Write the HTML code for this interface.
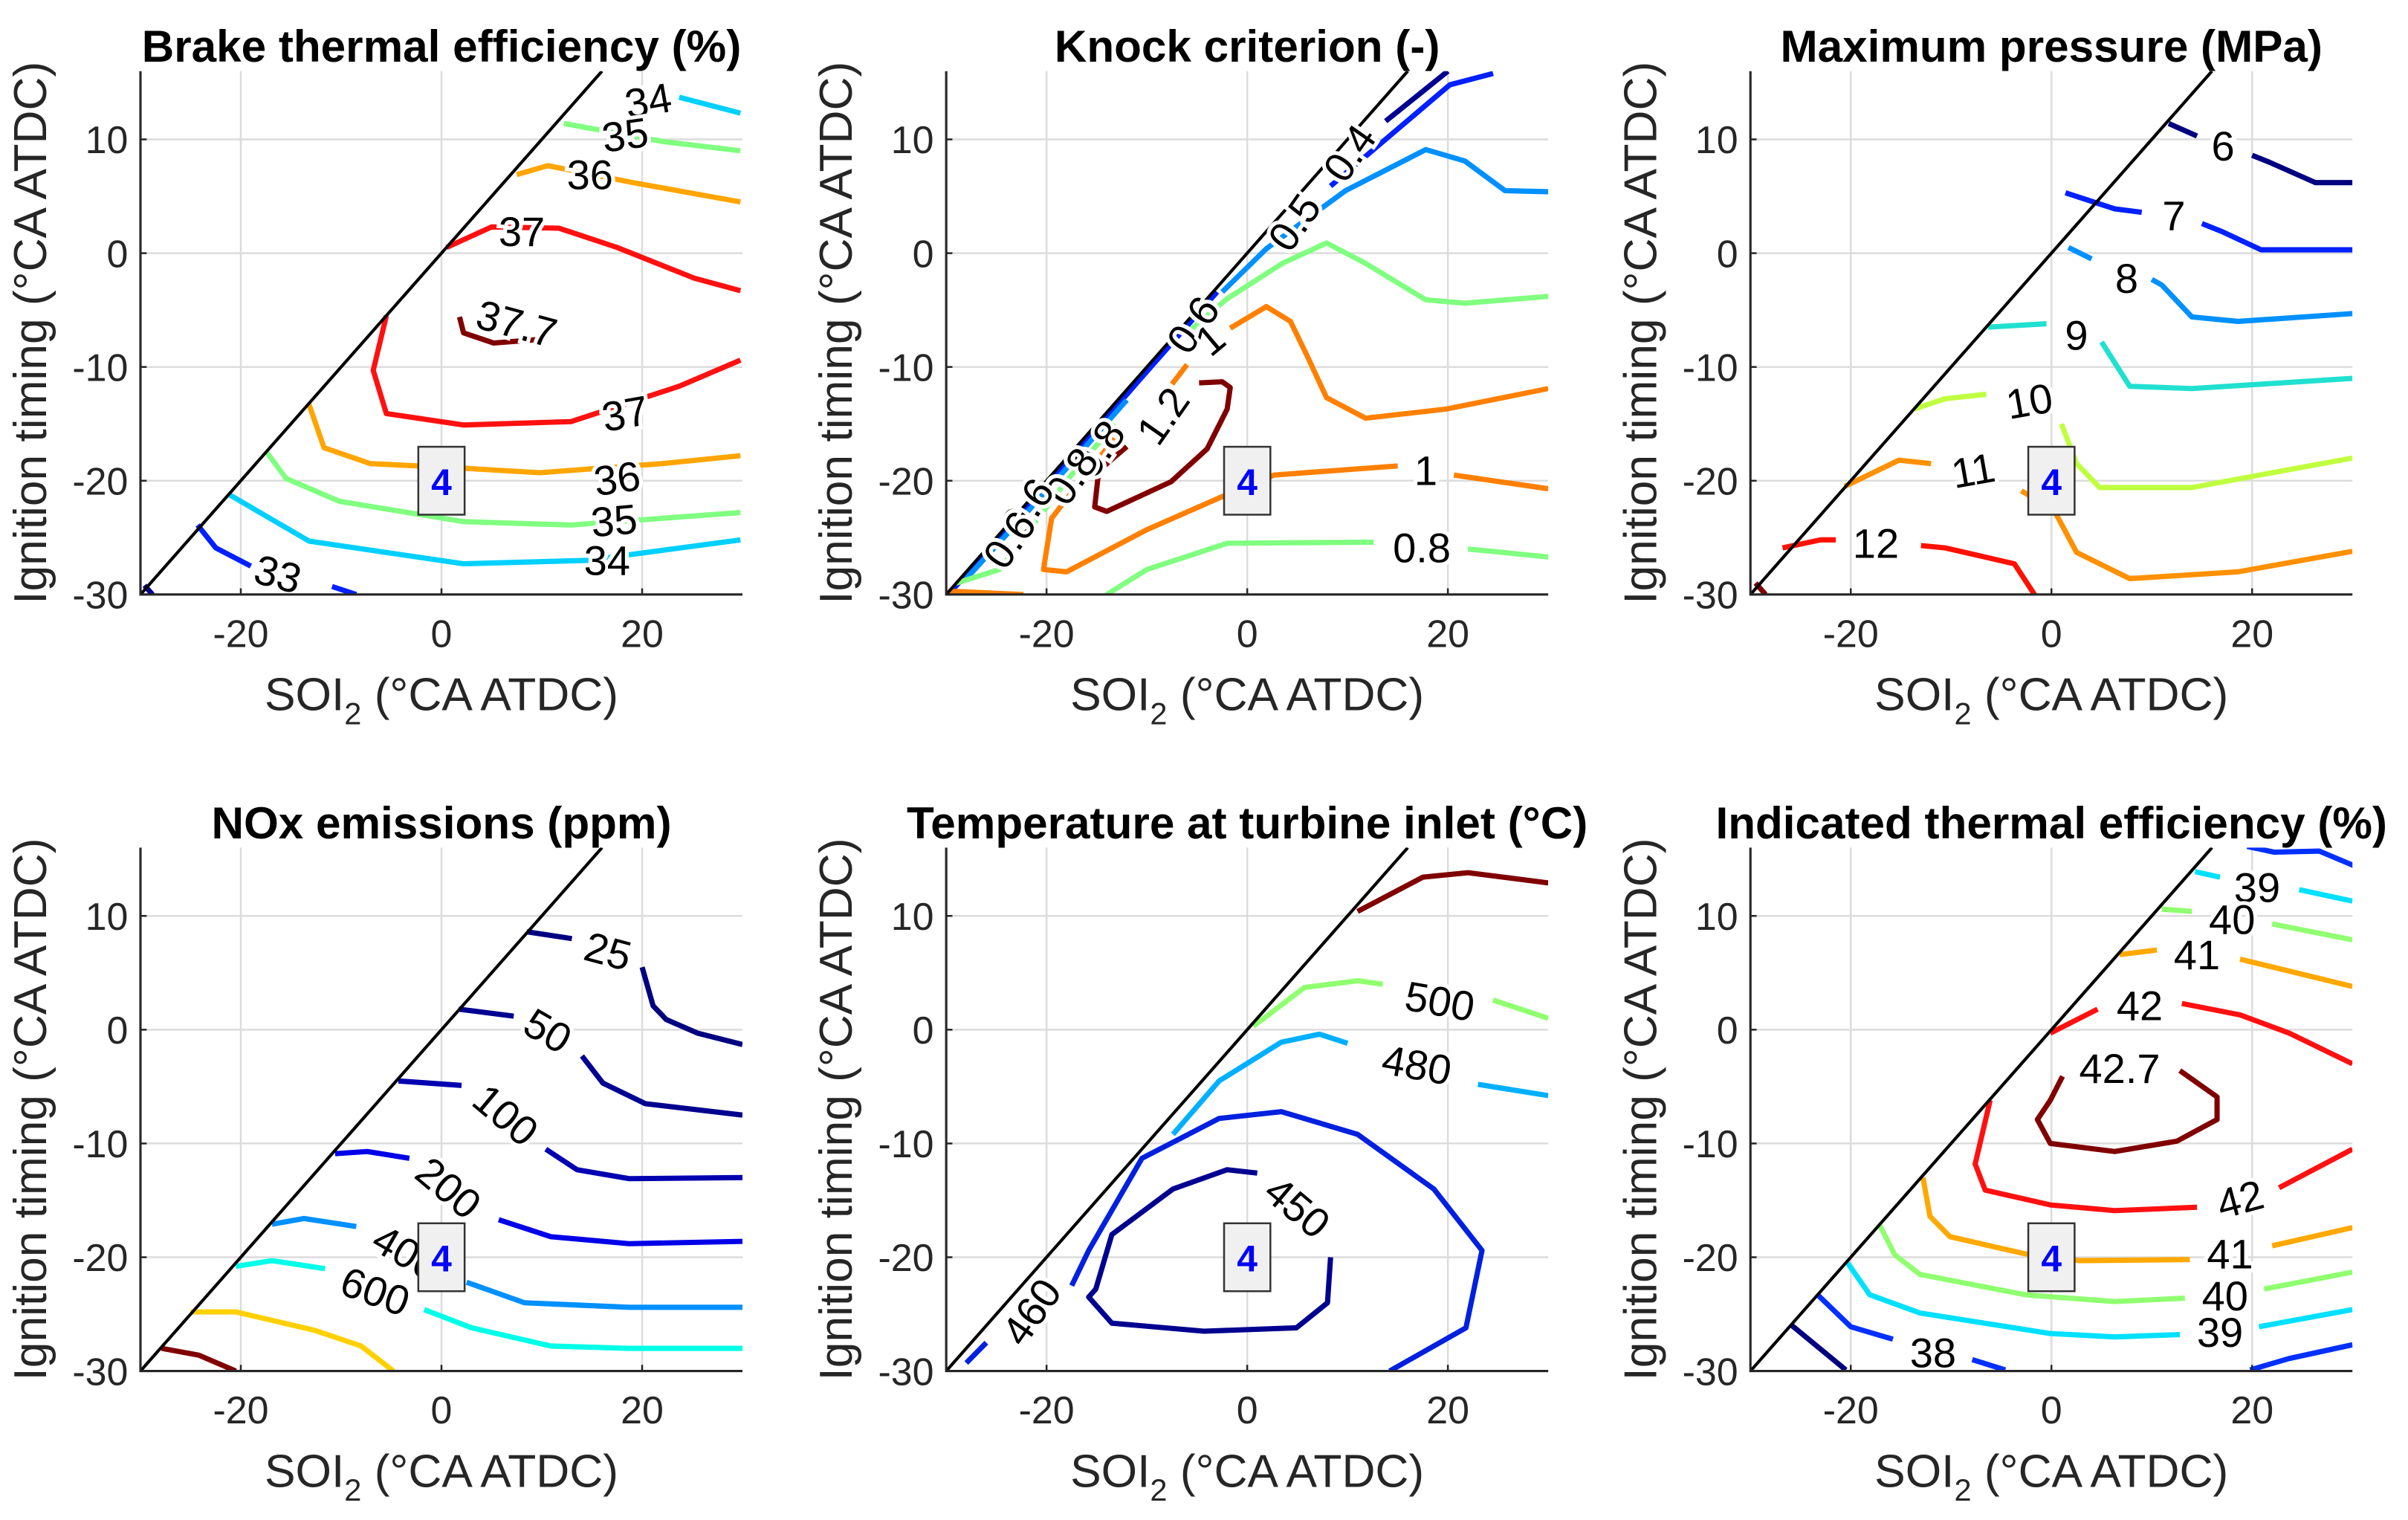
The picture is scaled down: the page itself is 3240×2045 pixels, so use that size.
<!DOCTYPE html>
<html><head><meta charset="utf-8">
<style>
html,body{margin:0;padding:0;background:#fff;}
svg{display:block;font-family:"Liberation Sans",Arial,sans-serif;}
</style></head>
<body>
<svg id="fig" width="3240" height="2045" viewBox="0 0 1560 984.6" preserveAspectRatio="none" xmlns="http://www.w3.org/2000/svg"></svg>
<script>
// ---------------- DATA ----------------
const xTicks = [-20, 0, 20];
const yTicks = [10, 0, -10, -20, -30];
const xRange = [-30, 30];
const yRange = [-30, 16];

// Brake thermal efficiency
const bteLines = [
 [33, [[-24.3,-23.9],[-22.5,-25.9],[-19,-27.5]]],
 [33, [[-10.9,-29.3],[-8.5,-30]]],
 [32, [[-29.6,-29.2],[-28.8,-30]]],
 [34, [[23.7,13.7],[29.8,12.3]]],
 [34, [[-21.2,-21.2],[-13.2,-25.3],[2.2,-27.3],[14.5,-27],[29.8,-25.2]]],
 [35, [[12.2,11.4],[22.2,9.8],[29.8,9]]],
 [35, [[-17.5,-17.4],[-15.5,-19.8],[-10.2,-21.8],[2.2,-23.6],[12.9,-23.9],[29.8,-22.8]]],
 [36, [[7.5,6.9],[10.6,7.7],[19.1,6.2],[29.8,4.5]]],
 [36, [[-13.2,-13.3],[-11.7,-17.1],[-7.1,-18.5],[2.2,-18.9],[9.8,-19.3],[22,-18.5],[29.8,-17.8]]],
 [37, [[0.5,0.5],[5,2.3],[11.7,2.2],[17.5,0.5],[25.2,-2.2],[29.8,-3.3]]],
 [37, [[-5.5,-5.5],[-6.8,-10.3],[-5.5,-14.1],[2.2,-15.1],[12.9,-14.8],[23.7,-11.7],[29.8,-9.4]]],
 [37.7, [[1.8,-5.6],[2.2,-7],[5.2,-7.9],[9.5,-7.6]]]
];
const bteLabels = [["34",20.6,13.4,-10],["35",18.3,10.4,-8],["36",14.8,6.9,0],["37",8,1.9,0],["37.7",7.5,-6.2,15],
 ["37",18.3,-14.1,-10],["36",17.5,-19.8,-8],["35",17.2,-23.5,-5],["34",16.5,-27,0],["33",-16.3,-28.2,15]];

// Knock criterion
const knockLines = [
 [0.4, [[13.8,11.6],[20,16]]],
 [0.5, [[8.3,5.9],[20.2,14.8],[24.5,15.8]]],
 [0.5, [[-29.5,-29.7],[-20,-20.5],[-10,-10.4],[-3,-3.4]]],
 [0.6, [[-28,-28.6],[-20,-20.9],[-12,-12.9]]],
 [0.6, [[-2.5,-3.4],[1.9,0.4],[9.8,5.5],[17.8,9.1],[21.7,8.1],[25.7,5.5],[30,5.4]]],
 [0.8, [[-29,-29],[-24.7,-27.8],[-18,-20],[-13.2,-15]]],
 [0.8, [[-6,-7],[-2,-4],[3.5,-0.9],[7.9,0.9],[11.8,-0.9],[17.8,-4.1],[21.7,-4.4],[30,-3.8]]],
 [0.8, [[-14,-30],[-10,-27.8],[-2,-25.5],[12.6,-25.4]]],
 [0.8, [[22,-26],[30,-26.7]]],
 [1, [[-13.2,-16.3],[-16.7,-20.1],[-19.5,-23.3],[-20.3,-27.8],[-18,-28],[-10,-24.3],[-2.5,-21.4],[2.7,-19.5],[15,-18.7]]],
 [1, [[20.6,-19.5],[30,-20.7]]],
 [1, [[-6,-9.8],[-7.5,-11.5]]],
 [1, [[-1.7,-6.6],[1.9,-4.7],[4.3,-6],[5.9,-8.9],[7.9,-12.7],[11.8,-14.5],[19.8,-13.7],[30,-11.9]]],
 [1, [[-29.8,-29.7],[-22.3,-30]]],
 [1.2, [[-12,-17],[-14.8,-19.1],[-15.2,-22.3],[-14,-22.7],[-7.6,-20.1],[-4,-17.2],[-2,-13.7],[-1.7,-11.8],[-2.5,-11.3],[-4.8,-11.4]]]
];
const knockLabels = [["0.4",10.2,8.8,-55],["0.5",4.7,2.7,-55],["0.6",-5.4,-6.3,-55],["1",-3.7,-7.6,-40],["1.2",-8.4,-14.3,-55],
 ["0.8",-14.8,-17.2,-55],["0.8",-17.5,-19.6,-55],["0.6",-21.9,-22.3,-55],["0.6",-23.7,-25.2,-55],["1",17.8,-19.1,0],["0.8",17.4,-25.9,0]];

// Maximum pressure
const pmaxLines = [
 [6, [[11.7,11.4],[14.5,10.3]]],
 [6, [[20,8.6],[21.7,8],[26.3,6.2],[30,6.2]]],
 [7, [[1.4,5.3],[6.3,3.9],[9,3.6]]],
 [7, [[15,2.6],[17,1.9],[20.9,0.3],[30,0.3]]],
 [8, [[1.7,0.5],[4,-0.5]]],
 [8, [[10,-2.3],[11,-2.8],[14,-5.6],[18.6,-6],[30,-5.3]]],
 [9, [[-6.3,-6.5],[-0.5,-6.2]]],
 [9, [[5,-7.8],[7.8,-11.7],[14,-11.9],[30,-11]]],
 [10, [[-13.7,-13.7],[-10.6,-12.8],[-6.5,-12.4]]],
 [10, [[1,-15],[2.5,-18.5],[4.8,-20.6],[14,-20.6],[30,-18]]],
 [11, [[-20.6,-20.5],[-15.2,-18.2],[-12,-18.5]]],
 [11, [[-3,-20.9],[0.2,-22.5],[2.5,-26.3],[7.8,-28.6],[18.6,-28],[30,-26.2]]],
 [12, [[-26.8,-25.9],[-23,-25.2],[-21.5,-25.2]]],
 [12, [[-13,-25.7],[-10.6,-25.9],[-3.7,-27.3],[-1.7,-30]]],
 [13, [[-29.5,-29],[-28.5,-30]]]
];
const pmaxLabels = [["6",17.1,9.4,0],["7",12.2,3.3,0],["8",7.5,-2.2,0],["9",2.5,-7.2,0],["10",-2.2,-13,-10],["11",-7.8,-19.1,-10],["12",-17.5,-25.5,0]];

// NOx
const noxLines = [
 [25, [[8.5,8.6],[13,8]]],
 [25, [[20,5.5],[21.1,2.1],[22.4,0.9],[25.5,-0.3],[30,-1.3]]],
 [50, [[1.7,1.8],[7.2,1.2]]],
 [50, [[14,-2.3],[16.1,-4.7],[20.3,-6.5],[30,-7.5]]],
 [100, [[-4.3,-4.5],[2,-4.9]]],
 [100, [[10.4,-10.5],[13.5,-12.3],[18.7,-13.1],[30,-13]]],
 [200, [[-10.6,-10.9],[-7.4,-10.7],[-3.2,-11.3]]],
 [200, [[5.7,-16.7],[10.9,-18.2],[18.7,-18.8],[30,-18.6]]],
 [400, [[-16.9,-17.1],[-13.7,-16.6],[-8.5,-17.3]]],
 [400, [[2.5,-22.2],[8.3,-24],[18.7,-24.4],[30,-24.4]]],
 [600, [[-20.5,-20.8],[-16.9,-20.3],[-11.6,-21]]],
 [600, [[-1.7,-24.6],[3,-26.2],[10.9,-27.8],[18.7,-28],[30,-28]]],
 [1000, [[-25,-24.8],[-20.5,-24.8],[-12.7,-26.4],[-8,-27.8],[-4.8,-30]]],
 [2000, [[-27.9,-28],[-24.2,-28.6],[-20.5,-30]]]
];
const noxLabels = [["25",16.6,6.9,15],["50",10.6,-0.1,30],["100",6.4,-7.5,40],["200",0.7,-13.9,40],["400",-3.5,-19.6,30],["600",-6.6,-23,20]];

// Turbine inlet temperature
const tempLines = [
 [520, [[11,10.4],[17.5,13.4],[22,13.8],[30,12.9]]],
 [500, [[0.6,0.3],[5.7,3.7],[11,4.3],[13.5,4]]],
 [500, [[24.5,2.6],[30,1]]],
 [480, [[-7.4,-9.2],[-2.8,-4.5],[3.4,-1.1],[7.2,-0.4],[10,-1.2]]],
 [480, [[23,-4.8],[30,-5.8]]],
 [460, [[-28,-29.3],[-26,-27.5]]],
 [460, [[-17.5,-22.5],[-15.8,-19.4],[-10.5,-11.3],[-2.8,-7.8],[3.4,-7.2],[11,-9.2],[18.6,-14],[23.4,-19.4],[21.8,-26.2],[14.2,-30]]],
 [450, [[1,-12.6],[-2,-12.3],[-7.4,-14],[-13.5,-18],[-15.1,-22.8],[-15.8,-23.5],[-13.5,-25.8],[-4.3,-26.5],[4.9,-26.2],[8,-24],[8.3,-20]]]
];
const tempLabels = [["500",19.2,2.5,10],["480",16.9,-3.1,10],["460",-21.5,-24.8,-55],["450",5,-15.6,40]];

// Indicated thermal efficiency
const iteLines = [
 [38, [[19.5,16.1],[22.2,15.6],[26.7,15.7],[30.2,14.4]]],
 [39, [[14.3,13.9],[16.8,13.4]]],
 [39, [[24.7,12.3],[30,11.3]]],
 [40, [[11,10.6],[14,10.4]]],
 [40, [[22,9.3],[30,7.9]]],
 [41, [[6.8,6.6],[10.5,7]]],
 [41, [[18.8,6.2],[30,3.8]]],
 [42, [[-0.1,-0.3],[4.6,1.8]]],
 [42, [[13,2.3],[18.8,1.3],[23.7,-0.3],[30,-3]]],
 [42.7, [[1.1,-4.1],[-0.1,-6.2],[-1.4,-7.9],[-0.1,-10],[6.3,-10.7],[12.5,-9.8],[16.5,-7.9],[16.5,-5.9],[12.8,-3.6]]],
 [42, [[-6.1,-6.2],[-7.6,-11.8],[-6.6,-14.1],[-0.1,-15.4],[6.3,-15.9],[14.5,-15.6]]],
 [42, [[22.7,-13.9],[30,-10.5]]],
 [41, [[-12.8,-13],[-12.1,-16.4],[-10.1,-18.2],[-2.6,-19.7],[2.8,-20.3],[13.8,-20.2]]],
 [41, [[22,-19],[30,-17.4]]],
 [40, [[-17.1,-17.2],[-15.6,-19.8],[-13.1,-21.5],[-2.6,-23.3],[6.3,-23.9],[13.3,-23.6]]],
 [40, [[21.2,-22.8],[30,-21.3]]],
 [39, [[-20.3,-20.5],[-18.1,-23.3],[-13.1,-24.9],[-0.1,-26.7],[6.3,-27],[12.8,-26.8]]],
 [39, [[20.7,-26.1],[30,-24.6]]],
 [38, [[-23.3,-23.3],[-20,-26.1],[-15.8,-27.2]]],
 [38, [[-7.9,-29],[-4.6,-29.9]]],
 [37, [[-26,-25.9],[-20.5,-29.9]]],
 [38, [[19.8,-29.9],[23.7,-28.9],[30,-27.7]]]
];
const iteLabels = [["39",20.5,12.5,0],["40",18,9.7,0],["41",14.5,6.6,0],["42",8.8,2.1,0],["42.7",6.8,-3.4,0],
 ["42",18.8,-14.9,-15],["41",17.8,-19.7,0],["40",17.3,-23.4,0],["39",16.8,-26.6,0],["38",-11.8,-28.4,0]];

// ------------- STYLE (colours per level) -------------
const colors = {
 bte:{32:'#000090',33:'#0020ff',34:'#00d0ff',35:'#80ff80',36:'#ffa500',37:'#ff1010',37.7:'#800000'},
 knock:{0.4:'#000090',0.5:'#0020ff',0.6:'#0090ff',0.8:'#80ff80',1:'#ff8000',1.2:'#800000'},
 pmax:{6:'#000080',7:'#0020ff',8:'#0090ff',9:'#20e0d0',10:'#c0ff40',11:'#ff9000',12:'#ff1000',13:'#800000'},
 nox:{25:'#000080',50:'#000090',100:'#0000b0',200:'#0000e8',400:'#0090ff',600:'#00ffe8',1000:'#ffd000',2000:'#800000'},
 temp:{450:'#000090',460:'#0020e0',480:'#00b0ff',500:'#90ff70',520:'#800000'},
 ite:{37:'#000080',38:'#0030ff',39:'#00e0ff',40:'#90ff70',41:'#ffa800',42:'#ff1010',42.7:'#800000'}
};

const panels = [
 {key:'bte', title:'Brake thermal efficiency (%)', cx:286, cy:164, lines:bteLines, labels:bteLabels},
 {key:'knock', title:'Knock criterion (-)', cx:808, cy:164, lines:knockLines, labels:knockLabels},
 {key:'pmax', title:'Maximum pressure (MPa)', cx:1329, cy:164, lines:pmaxLines, labels:pmaxLabels},
 {key:'nox', title:'NOx emissions (ppm)', cx:286, cy:667, lines:noxLines, labels:noxLabels},
 {key:'temp', title:'Temperature at turbine inlet (\u00B0C)', cx:808, cy:667, lines:tempLines, labels:tempLabels},
 {key:'ite', title:'Indicated thermal efficiency (%)', cx:1329, cy:667, lines:iteLines, labels:iteLabels}
];

// ------------- DRAW -------------
const NS='http://www.w3.org/2000/svg';
const svg=document.getElementById('fig');
const kx=6.5, ky=7.37;
function mk(tag, attrs, parent){const e=document.createElementNS(NS,tag);for(const k in attrs)e.setAttribute(k,attrs[k]);(parent||svg).appendChild(e);return e;}

panels.forEach((p,pi)=>{
 const sx=x=>p.cx+x*kx, sy=y=>p.cy-y*ky;
 const L=sx(xRange[0]), R=sx(xRange[1]), T=sy(yRange[1]), B=sy(yRange[0]);
 const g=mk('g',{});
 
 
 const defs=mk('defs',{},g);
 const cp=mk('clipPath',{id:'clip'+pi},defs);
 mk('rect',{x:L,y:T,width:R-L,height:B-T},cp);
 // grid
 xTicks.forEach(t=>{const l=mk('line',{x1:sx(t),x2:sx(t),y1:T,y2:B,stroke:'#dcdcdc','stroke-width':1.2},g);
  
  });
 yTicks.forEach(t=>{if(t===-30)return;const l=mk('line',{x1:L,x2:R,y1:sy(t),y2:sy(t),stroke:'#dcdcdc','stroke-width':1.2},g);
  
  });
 // contours
 const cg=mk('g',{'clip-path':'url(#clip'+pi+')'},g);
 p.lines.forEach(([lev,pts])=>{
  const d=pts.map((q,i)=>(i?'L':'M')+sx(q[0]).toFixed(1)+' '+sy(q[1]).toFixed(1)).join(' ');
  const path=mk('path',{d:d,fill:'none',stroke:colors[p.key][lev]||'#000','stroke-width':3.4,'stroke-linejoin':'round','stroke-linecap':'butt'},cg);
  
  
 });
 // diagonal
 const dg=mk('line',{x1:sx(-30),y1:sy(-30),x2:sx(yRange[1]),y2:sy(yRange[1]),stroke:'#000','stroke-width':2},cg);
 
 
 // labels
 p.labels.forEach(([txt,x,y,rot])=>{
  const t=mk('text',{x:sx(x),y:sy(y),'font-size':27,'text-anchor':'middle','dominant-baseline':'central',fill:'#000',
   stroke:'#fff','stroke-width':5,'paint-order':'stroke',transform:'rotate('+rot+' '+sx(x)+' '+sy(y)+')'},g);
  t.textContent=txt;
  
  
 });
 // marker box "4"
 const bx=mk('g',{},g);
 
 
 mk('rect',{x:sx(0)-15,y:sy(-20)-22,width:30,height:44,fill:'#f0f0f0',stroke:'#333','stroke-width':1.2},bx);
 const bt=mk('text',{x:sx(0),y:sy(-20)+1,'font-size':24,'font-weight':'bold','text-anchor':'middle','dominant-baseline':'central',fill:'#0000ff'},bx);
 bt.textContent='4';
 // axes
 const ax=mk('path',{d:`M${L} ${T} L${L} ${B} L${R} ${B}`,fill:'none',stroke:'#262626','stroke-width':1.5},g);
 
 
 xTicks.forEach(t=>{
  mk('line',{x1:sx(t),x2:sx(t),y1:B,y2:B-4,stroke:'#262626','stroke-width':1.2},g);
  const tx=mk('text',{x:sx(t),y:B+34,'font-size':25,'text-anchor':'middle',fill:'#262626'},g);
  tx.textContent=t;
  
  
 });
 yTicks.forEach(t=>{
  mk('line',{x1:L,x2:L+4,y1:sy(t),y2:sy(t),stroke:'#262626','stroke-width':1.2},g);
  const ty=mk('text',{x:L-8,y:sy(t)+9,'font-size':25,'text-anchor':'end',fill:'#262626'},g);
  ty.textContent=t;
  
  
 });
 // axis titles
 const xl=mk('text',{x:p.cx,y:B+75,'font-size':30,'text-anchor':'middle',fill:'#262626'},g);
 xl.innerHTML='SOI<tspan font-size="20" dy="9">2</tspan><tspan dy="-9"> (\u00B0CA ATDC)</tspan>';
 
 
 const ym=(T+B)/2, yx=L-71;
 const yl=mk('text',{x:yx,y:ym,'font-size':30,'text-anchor':'middle','dominant-baseline':'central',fill:'#262626',transform:`rotate(-90 ${yx} ${ym})`},g);
 yl.textContent='Ignition timing (\u00B0CA ATDC)';
 
 
 const tt=mk('text',{x:p.cx,y:T-6,'font-size':29,'font-weight':'bold','text-anchor':'middle',fill:'#000'},g);
 tt.textContent=p.title;
 
 
});
</script>
</body></html>
